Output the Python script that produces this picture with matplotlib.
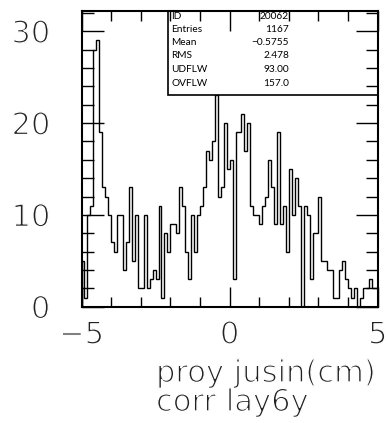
import matplotlib
matplotlib.use("Agg")
import matplotlib.pyplot as plt
import matplotlib.patheffects as pe
from matplotlib.patches import Rectangle
from matplotlib.ticker import MultipleLocator
import numpy as np

# histogram contents, 100 bins from -5 to 5
x_low, x_high = -5, 5
counts = [5, 1, 10, 11, 28, 29, 19, 13, 12, 10,
          7, 6, 10, 10, 4, 7, 13, 5, 10, 2,
          2, 10, 2, 3, 4, 3, 11, 1, 8, 6,
          9, 9, 8, 13, 11, 6, 3, 10, 6, 10,
          11, 13, 17, 16, 18, 23, 12, 13, 20, 15,
          16, 3, 19, 19, 21, 17, 20, 11, 10, 10,
          9, 11, 12, 16, 13, 9, 19, 9, 11, 6,
          15, 10, 14, 11, 0, 11, 10, 3, 8, 8,
          12, 5, 5, 4, 4, 1, 1, 4, 5, 3,
          2, 1, 2, 0, 1, 2, 2, 3, 2, 2]

stat_names = ["ID", "Entries", "Mean", "RMS", "UDFLW", "OVFLW"]
stat_values = ["20062", "1167", "\u22120.5755", "2.478", "93.00", "157.0"]

x_title = "proy jusin(cm)"
y_title = "corr lay6y"

big_fam = ["DejaVu Sans"]
small_fam = ["Lato", "DejaVu Sans"]
txt_color = "#222222"
# thin the big glyphs (white outline drawn over the fill)
thin = [pe.Normal(), pe.Stroke(linewidth=1.0, foreground="white")]

fig = plt.figure(figsize=(3.88, 4.23), dpi=100)
ax = fig.add_axes([81.5 / 388, 116.3 / 423, 296.2 / 388, 295.7 / 423])

edges = np.linspace(x_low, x_high, len(counts) + 1)
ax.stairs(counts, edges, color="black", linewidth=1.0, zorder=1.5)

ax.set_xlim(x_low, x_high)
ax.set_ylim(0, 32.2)

# ticks on all four sides, pointing in
ax.xaxis.set_major_locator(MultipleLocator(5))
ax.xaxis.set_minor_locator(MultipleLocator(1))
ax.yaxis.set_major_locator(MultipleLocator(10))
ax.yaxis.set_minor_locator(MultipleLocator(2))
ax.tick_params(axis="both", which="both", direction="in", top=True, right=True,
               color="black", width=1.0)
ax.tick_params(axis="x", which="major", length=14.4, pad=10.0)
ax.tick_params(axis="x", which="minor", length=7.2)
ax.tick_params(axis="y", which="major", length=15.8, pad=22.5)
ax.tick_params(axis="y", which="minor", length=8.3)
ax.set_axisbelow(False)

for lab in ax.get_xticklabels() + ax.get_yticklabels():
    lab.set_fontfamily(big_fam)
    lab.set_fontsize(22)
    lab.set_color(txt_color)
    lab.set_path_effects(thin)

for s in ax.spines.values():
    s.set_linewidth(1.5)
    s.set_zorder(3)

# stats box in the top right corner
box_left = (167.7 - 81.5) / 296.2
box_bottom = (306.7 - 95.5) / 295.7
ax.add_patch(Rectangle((box_left, box_bottom), 1 - box_left, 1 - box_bottom,
                       transform=ax.transAxes, facecolor="white",
                       edgecolor="black", linewidth=1.2, zorder=2))
row_y = [16.5, 29.5, 42.7, 56.0, 69.5, 83.0]
for name, val, yy in zip(stat_names, stat_values, row_y):
    fy = (423 - yy) / 423
    fig.text(171.5 / 388, fy, name, fontsize=7.3, family=small_fam, va="center",
             ha="left", color="black", zorder=4)
    fig.text(289 / 388, fy, val, fontsize=7.3, family=small_fam, va="center",
             ha="right", color="black", zorder=4)

fig.text(156 / 388, (423 - 382) / 423, x_title, fontsize=22, family=big_fam,
         color=txt_color, ha="left", va="baseline", path_effects=thin)
fig.text(156 / 388, (423 - 411) / 423, y_title, fontsize=22, family=big_fam,
         color=txt_color, ha="left", va="baseline", path_effects=thin)

fig.savefig("out.png", dpi=100)
